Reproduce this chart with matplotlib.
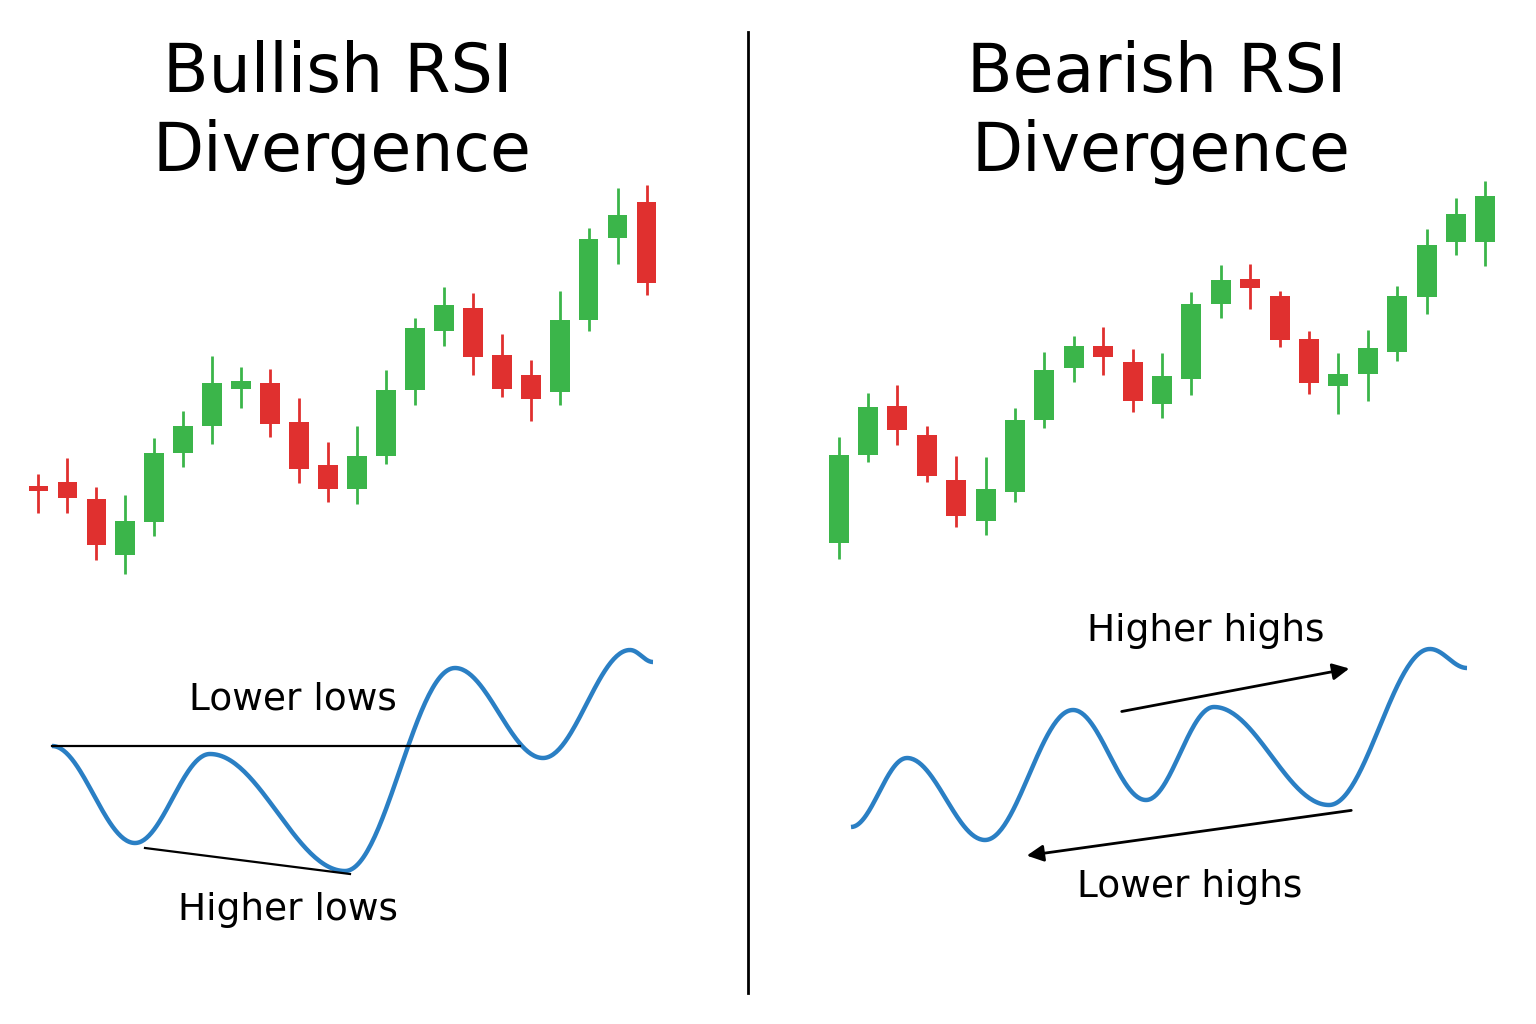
import numpy as np
import matplotlib
matplotlib.use("Agg")
import matplotlib.pyplot as plt

GREEN = "#3bb54a"
RED = "#e0302f"
BLUE = "#2a7fc4"

# Left panel candles (price units)
l_open  = [53.8, 54.2, 52.5, 46.9, 50.2, 57.1, 59.8, 63.5, 64.1, 60.2, 55.9, 53.5, 56.8, 63.4, 69.3, 71.6, 66.9, 64.9, 63.2, 70.4, 78.6, 82.2]
l_close = [53.3, 52.6, 47.9, 50.3, 57.1, 59.8, 64.1, 64.3, 60.0, 55.5, 53.5, 56.8, 63.4, 69.6, 71.9, 66.7, 63.5, 62.5, 70.4, 78.5, 80.9, 74.1]
l_high  = [55.0, 56.6, 53.7, 52.9, 58.6, 61.3, 66.8, 65.7, 65.5, 62.6, 58.2, 59.8, 65.4, 70.6, 73.7, 73.1, 69.0, 66.4, 73.3, 79.6, 83.6, 83.9]
l_low   = [51.1, 51.1, 46.4, 45.0, 48.8, 55.7, 58.0, 61.6, 58.7, 54.1, 52.2, 52.0, 56.0, 61.9, 67.8, 64.9, 62.7, 60.3, 61.9, 69.3, 76.0, 72.9]

# Right panel candles (price units)
r_open  = [48.1, 56.9, 61.8, 58.9, 54.4, 50.3, 53.2, 60.4, 65.6, 67.8, 66.2, 62.0, 64.5, 72.0, 74.5, 72.8, 68.5, 63.8, 65.0, 67.2, 72.7, 78.2, 78.2]
r_close = [56.9, 61.7, 59.4, 54.8, 50.8, 53.5, 60.4, 65.4, 67.8, 66.7, 62.3, 64.8, 72.0, 74.4, 73.6, 68.4, 64.1, 65.0, 67.6, 72.8, 77.9, 81.0, 82.8]
r_high  = [58.7, 63.1, 63.9, 59.8, 56.8, 56.7, 61.6, 67.2, 68.8, 69.7, 67.5, 67.1, 73.2, 75.9, 76.0, 73.3, 69.3, 67.1, 69.4, 73.8, 79.5, 82.6, 84.3]
r_low   = [46.5, 56.2, 57.9, 54.2, 49.7, 48.9, 52.2, 59.6, 64.2, 64.9, 61.2, 60.6, 62.9, 70.6, 71.5, 67.7, 63.0, 61.0, 62.3, 66.3, 71.0, 76.9, 75.8]

# RSI extrema (x, y in illustration units)
l_rsi_x = [52, 135, 210, 345, 455, 543, 630, 653]
l_rsi_y = [746, 843, 754, 871, 668, 758, 650, 662]
r_rsi_x = [851, 907, 985, 1073, 1146, 1214, 1329, 1430, 1467]
r_rsi_y = [827, 758, 840, 710, 800, 707, 805, 649, 668]

fig = plt.figure(figsize=(15.36, 10.24), dpi=100)
ax = fig.add_axes([0, 0, 1, 1])
ax.set_xlim(0, 1536); ax.set_ylim(1024, 0); ax.axis("off")

def candles(pos, o, c, h, l):
    a = fig.add_axes(pos)
    n = len(o)
    a.set_xlim(-0.5, n - 0.5); a.set_ylim(0, 102.4); a.axis("off")
    for i in range(n):
        col = GREEN if c[i] >= o[i] else RED
        a.vlines(i, l[i], h[i], color=col, lw=2)
        b = min(o[i], c[i]); hgt = max(abs(c[i] - o[i]), 0.5)
        a.bar(i, hgt, bottom=b, width=0.68, color=col)

candles([24/1536, 0, 637/1536, 1], l_open, l_close, l_high, l_low)
candles([824/1536, 0, 676/1536, 1], r_open, r_close, r_high, r_low)

def curve(xs, ys):
    px, py = [], []
    for i in range(len(xs) - 1):
        t = np.linspace(0, 1, 60)
        s = (1 - np.cos(np.pi * t)) / 2
        px.extend(xs[i] + (xs[i+1] - xs[i]) * t)
        py.extend(ys[i] + (ys[i+1] - ys[i]) * s)
    ax.plot(px, py, color=BLUE, lw=3.2, solid_capstyle="butt")

curve(l_rsi_x, l_rsi_y)
curve(r_rsi_x, r_rsi_y)

ax.plot([748, 748], [32, 993], color="black", lw=2)
for x0, t1 in [(338, "Bullish RSI"), (1157, "Bearish RSI")]:
    ax.text(x0, 73, t1, ha="center", va="center", fontsize=48)
    ax.text(x0 + 4, 152, "Divergence", ha="center", va="center", fontsize=48)

ax.plot([52, 520], [746, 746], color="black", lw=1.6)
ax.plot([145, 350], [848, 874], color="black", lw=1.6)
ax.text(293, 700, "Lower lows", ha="center", va="center", fontsize=27)
ax.text(288, 910, "Higher lows", ha="center", va="center", fontsize=27)

ax.annotate("", xy=(1352, 668), xytext=(1119, 712),
            arrowprops=dict(arrowstyle="-|>", color="black", lw=2, mutation_scale=25))
ax.annotate("", xy=(1024, 856), xytext=(1354, 810),
            arrowprops=dict(arrowstyle="-|>", color="black", lw=2, mutation_scale=25))
ax.text(1206, 631, "Higher highs", ha="center", va="center", fontsize=27)
ax.text(1190, 887, "Lower highs", ha="center", va="center", fontsize=27)

fig.savefig("out.png", dpi=100, facecolor="white")
